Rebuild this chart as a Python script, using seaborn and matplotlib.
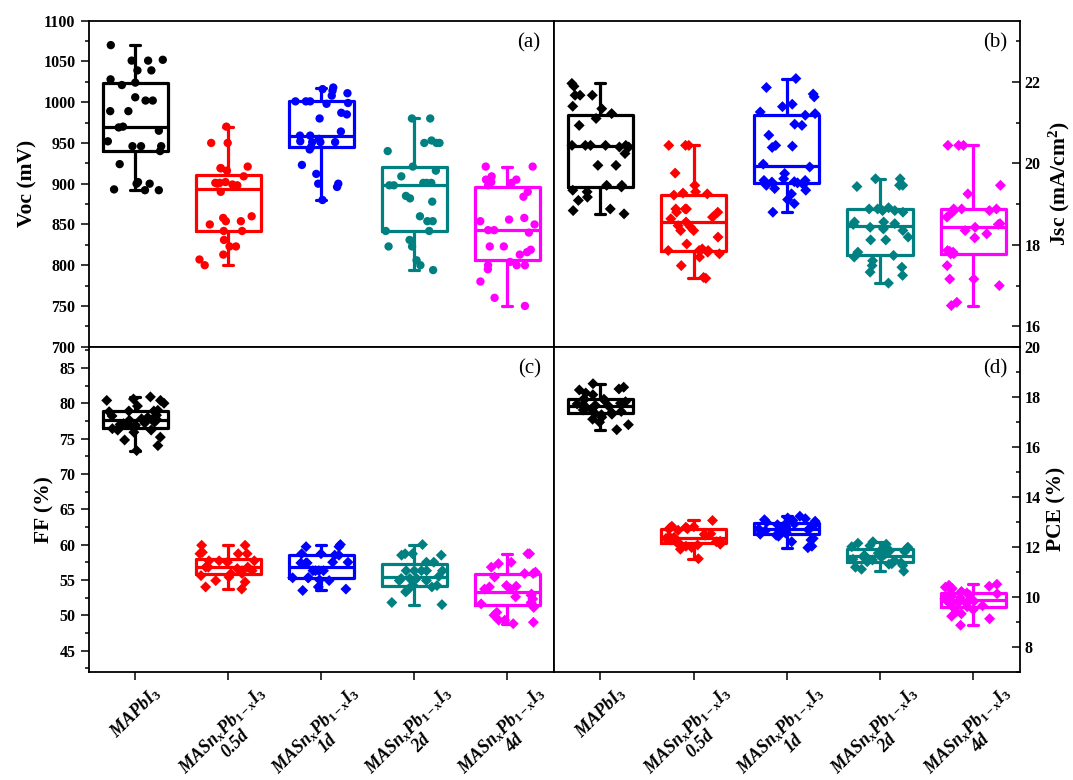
"""Box + data overlay of the four J-V parameters for MAPbI3 and aged MASnxPb1-xI3 cells."""

import matplotlib
matplotlib.use("Agg")
import matplotlib.pyplot as plt
import numpy as np
import pandas as pd
import seaborn as sns
from matplotlib.ticker import MultipleLocator

# ── Data ──────────────────────────────────────────────────────────────────
GROUPS = ["MAPbI3", "0.5d", "1d", "2d", "4d"]
TICK_LABELS = [
    r"MAPbI$_\mathit{3}$",
    "MASn$_x$Pb$_{\\mathit{1-x}}$I$_\\mathit{3}$\n0.5d",
    "MASn$_x$Pb$_{\\mathit{1-x}}$I$_\\mathit{3}$\n1d",
    "MASn$_x$Pb$_{\\mathit{1-x}}$I$_\\mathit{3}$\n2d",
    "MASn$_x$Pb$_{\\mathit{1-x}}$I$_\\mathit{3}$\n4d",
]
COLORS = ["#000000", "#FF0000", "#0000FF", "#008080", "#FF00FF"]

VOC = [
    [1070, 1039, 1051, 1051, 1052, 1039, 1024, 1028, 1021, 1006, 1002, 1002, 989, 989, 970,
     965, 969, 946, 940, 952, 946, 946, 924, 902, 892, 893, 900, 900, 892],
    [970, 950, 950, 919, 916, 919, 921, 909, 900, 899, 901, 902, 901, 898, 890, 854, 854,
     858, 860, 850, 842, 842, 831, 823, 823, 813, 807, 800],
    [1018, 1016, 1014, 1011, 1008, 1001, 1001, 998, 1001, 999, 985, 987, 980, 964, 959, 959,
     955, 951, 951, 952, 951, 945, 942, 923, 912, 900, 896, 900, 880],
    [980, 980, 950, 950, 953, 950, 940, 916, 909, 921, 901, 901, 898, 901, 898, 885, 878,
     882, 860, 854, 854, 842, 842, 831, 823, 823, 806, 800, 794],
    [921, 921, 909, 905, 905, 902, 901, 898, 884, 890, 854, 856, 858, 850, 843, 843, 840,
     819, 823, 823, 813, 816, 800, 800, 800, 804, 795, 780, 760, 750],
]
JSC = [
    [21.89, 21.96, 21.67, 21.67, 21.67, 21.40, 21.34, 21.22, 21.10, 20.93, 20.44, 20.44,
     20.44, 20.40, 20.44, 20.44, 20.40, 20.24, 19.95, 19.95, 19.42, 19.46, 19.46, 19.34,
     19.30, 19.17, 19.09, 18.76, 18.84, 18.88],
    [20.44, 20.44, 20.44, 19.76, 19.46, 19.30, 19.27, 19.25, 19.22, 18.88, 18.88, 18.88,
     18.80, 18.80, 18.68, 18.64, 18.56, 18.47, 18.43, 18.35, 18.35, 18.19, 18.02, 17.90,
     17.86, 17.86, 17.86, 17.82, 17.78, 17.70, 17.49, 17.20, 17.18],
    [22.08, 21.86, 21.63, 21.70, 21.39, 21.45, 21.26, 21.22, 21.18, 20.96, 20.93, 20.69,
     20.44, 20.39, 20.42, 19.98, 19.91, 19.75, 19.62, 19.58, 19.52, 19.58, 19.55, 19.54,
     19.48, 19.46, 19.34, 19.25, 19.38, 19.11, 19.01, 18.80],
    [19.62, 19.62, 19.46, 19.46, 19.43, 18.91, 18.88, 18.84, 18.84, 18.88, 18.80, 18.56,
     18.39, 18.43, 18.50, 18.52, 18.56, 18.35, 18.12, 18.12, 18.19, 17.82, 17.70, 17.74,
     17.61, 17.49, 17.45, 17.33, 17.25, 17.06],
    [20.44, 20.44, 20.44, 19.46, 19.25, 18.88, 18.88, 18.88, 18.84, 18.84, 18.80, 18.52,
     18.43, 18.68, 18.50, 18.35, 18.27, 18.17, 17.84, 17.78, 17.82, 17.78, 17.86, 17.49,
     17.00, 17.16, 17.16, 16.51, 16.59],
]
FF = [
    [80.9, 80.4, 80.6, 80.4, 80.0, 78.8, 78.9, 79.6, 79.0, 78.9, 77.8, 77.6, 78.0, 78.3,
     77.7, 78.0, 78.2, 77.1, 76.7, 76.9, 77.3, 77.0, 77.2, 77.1, 76.2, 76.2, 75.9, 76.4,
     76.5, 75.2, 74.8, 74.0, 73.3],
    [59.9, 59.9, 58.9, 58.7, 58.7, 58.7, 57.7, 57.7, 57.7, 57.5, 56.6, 56.3, 56.8, 56.8,
     56.3, 56.8, 55.9, 54.9, 55.9, 55.6, 55.4, 54.7, 53.7, 54.0],
    [60.0, 59.7, 59.7, 58.7, 58.7, 58.5, 58.5, 57.5, 57.5, 57.4, 57.4, 57.4, 56.3, 56.3,
     56.3, 56.3, 55.3, 55.3, 55.0, 55.3, 54.0, 53.7, 53.5, 54.9],
    [60.0, 58.5, 58.7, 58.5, 58.7, 57.5, 57.5, 56.3, 56.3, 56.3, 56.3, 56.3, 55.2, 54.9,
     55.2, 55.5, 55.2, 54.9, 54.0, 54.2, 54.0, 54.2, 53.3, 53.5, 51.5, 51.8],
    [58.7, 58.7, 56.8, 57.3, 57.5, 55.9, 55.9, 56.1, 55.4, 54.0, 54.2, 53.7, 54.1, 53.7,
     52.6, 53.0, 52.8, 52.3, 51.6, 51.1, 51.6, 51.8, 50.0, 50.4, 49.3, 49.0, 48.8, 49.3],
]
PCE = [
    [18.52, 18.38, 18.31, 18.27, 18.15, 18.08, 17.92, 17.90, 17.88, 17.85, 17.80, 17.74,
     17.71, 17.69, 17.66, 17.62, 17.58, 17.55, 17.50, 17.47, 17.41, 17.37, 17.33, 17.30,
     17.28, 17.18, 17.10, 16.98, 16.88, 16.68],
    [13.05, 12.82, 12.80, 12.78, 12.75, 12.72, 12.70, 12.66, 12.52, 12.50, 12.46, 12.41,
     12.38, 12.33, 12.30, 12.27, 12.22, 12.20, 12.18, 12.13, 12.10, 12.07, 12.02, 11.97,
     11.90, 11.52],
    [13.22, 13.15, 13.12, 13.08, 13.05, 13.02, 12.98, 12.95, 12.91, 12.88, 12.84, 12.80,
     12.77, 12.74, 12.71, 12.68, 12.64, 12.61, 12.58, 12.55, 12.50, 12.46, 12.42, 12.33,
     12.27, 12.20, 12.02, 11.96],
    [12.20, 12.14, 12.10, 12.04, 12.00, 11.98, 11.95, 11.92, 11.88, 11.84, 11.80, 11.74,
     11.70, 11.66, 11.62, 11.58, 11.55, 11.50, 11.47, 11.44, 11.40, 11.36, 11.32, 11.30,
     11.25, 11.18, 11.10, 11.02],
    [10.50, 10.46, 10.42, 10.38, 10.33, 10.28, 10.21, 10.15, 10.12, 10.06, 10.02, 9.96,
     9.92, 9.88, 9.86, 9.82, 9.78, 9.75, 9.70, 9.64, 9.60, 9.55, 9.48, 9.40, 9.32, 9.22,
     9.12, 8.86],
]


def to_frame(values: list[list[float]]) -> pd.DataFrame:
    """Long-form table (group, value) for seaborn."""
    rows = [(g, v) for g, vals in zip(GROUPS, values) for v in vals]
    return pd.DataFrame(rows, columns=["group", "value"])


def shrink_caps(ax, half: float = 0.055) -> None:
    """Origin draws short whisker caps; narrow seaborn's default ones."""
    for line in ax.lines:
        x = np.asarray(line.get_xdata(), dtype=float)
        y = np.asarray(line.get_ydata(), dtype=float)
        if len(x) == 2 and y[0] == y[1] and 0 < abs(x[1] - x[0]) < 0.6:
            c = x.mean()
            line.set_xdata([c - half, c + half])


def draw_panel(ax, values, marker, msize, ylabel, ylim, major, minor, tag, right=False, bottom=False):
    df = to_frame(values)
    sns.boxplot(
        data=df, x="group", y="value", hue="group", order=GROUPS, hue_order=GROUPS,
        palette=COLORS, fill=False, width=0.7, linewidth=2.3, whis=(0, 100),
        showfliers=False, legend=False, ax=ax,
    )
    shrink_caps(ax)
    sns.stripplot(
        data=df, x="group", y="value", hue="group", order=GROUPS, hue_order=GROUPS,
        palette=COLORS, jitter=0.31, size=msize, marker=marker, linewidth=0,
        legend=False, ax=ax,
    )
    ax.set_xlim(-0.5, 4.5)
    ax.set_ylim(*ylim)
    ax.yaxis.set_major_locator(MultipleLocator(major))
    ax.yaxis.set_minor_locator(MultipleLocator(minor))
    ax.set_xlabel("")
    ax.set_ylabel(ylabel, fontsize=15.5, fontweight="bold")

    for side in ["top", "bottom", "left", "right"]:
        ax.spines[side].set_visible(True)
        ax.spines[side].set_linewidth(1.3)
        ax.spines[side].set_color("black")

    if right:
        ax.yaxis.tick_right()
        ax.yaxis.set_label_position("right")
        ax.tick_params(axis="y", which="both", direction="in", left=False, right=True,
                       labelsize=11.5, width=1.1)
    else:
        ax.tick_params(axis="y", which="both", direction="out", left=True, right=False,
                       labelsize=11.5, width=1.1)
    ax.tick_params(axis="y", which="major", length=6)
    ax.tick_params(axis="y", which="minor", length=3)

    if bottom:
        ax.set_xticks(range(len(GROUPS)))
        ax.set_xticklabels(TICK_LABELS, rotation=45, ha="center", va="top",
                           fontstyle="italic", fontsize=13, multialignment="center",
                           linespacing=1.0)
        ax.tick_params(axis="x", direction="out", length=6, width=1.1, top=False, pad=2)
    else:
        ax.tick_params(axis="x", bottom=False, top=False, labelbottom=False)

    ax.text(0.972, 0.932, tag, transform=ax.transAxes, ha="right", va="center",
            fontsize=15, fontweight="normal")


sns.set_theme(style="ticks", rc={
    "axes.edgecolor": "black", "xtick.color": "black", "ytick.color": "black",
    "text.color": "black", "axes.labelcolor": "black",
})
plt.rcParams["font.family"] = ["Liberation Serif", "DejaVu Serif"]
plt.rcParams["font.weight"] = "bold"
plt.rcParams["mathtext.fontset"] = "custom"
plt.rcParams["mathtext.rm"] = "Liberation Serif:bold"
plt.rcParams["mathtext.it"] = "Liberation Serif:italic:bold"
plt.rcParams["mathtext.bf"] = "Liberation Serif:bold"

np.random.seed(7)  # reproducible strip jitter

fig = plt.figure(figsize=(10.73, 7.80), dpi=100)
L, M, R = 0.0827, 0.5160, 0.9506
B, MID, T = 0.1388, 0.5555, 0.9735
ax_a = fig.add_axes([L, MID, M - L, T - MID])
ax_b = fig.add_axes([M, MID, R - M, T - MID])
ax_c = fig.add_axes([L, B, M - L, MID - B])
ax_d = fig.add_axes([M, B, R - M, MID - B])

draw_panel(ax_a, VOC, "o", 6, "Voc (mV)", (700, 1100), 50, 25, "(a)")
draw_panel(ax_b, JSC, "D", 5.6, "Jsc (mA/cm$^2$)", (15.5, 23.5), 2, 1, "(b)", right=True)
draw_panel(ax_c, FF, "D", 5.6, "FF (%)", (42, 88), 5, 2.5, "(c)", bottom=True)
draw_panel(ax_d, PCE, "D", 5.6, "PCE (%)", (7, 20), 2, 1, "(d)", right=True, bottom=True)

fig.savefig("out.png", dpi=100)
plt.close(fig)
